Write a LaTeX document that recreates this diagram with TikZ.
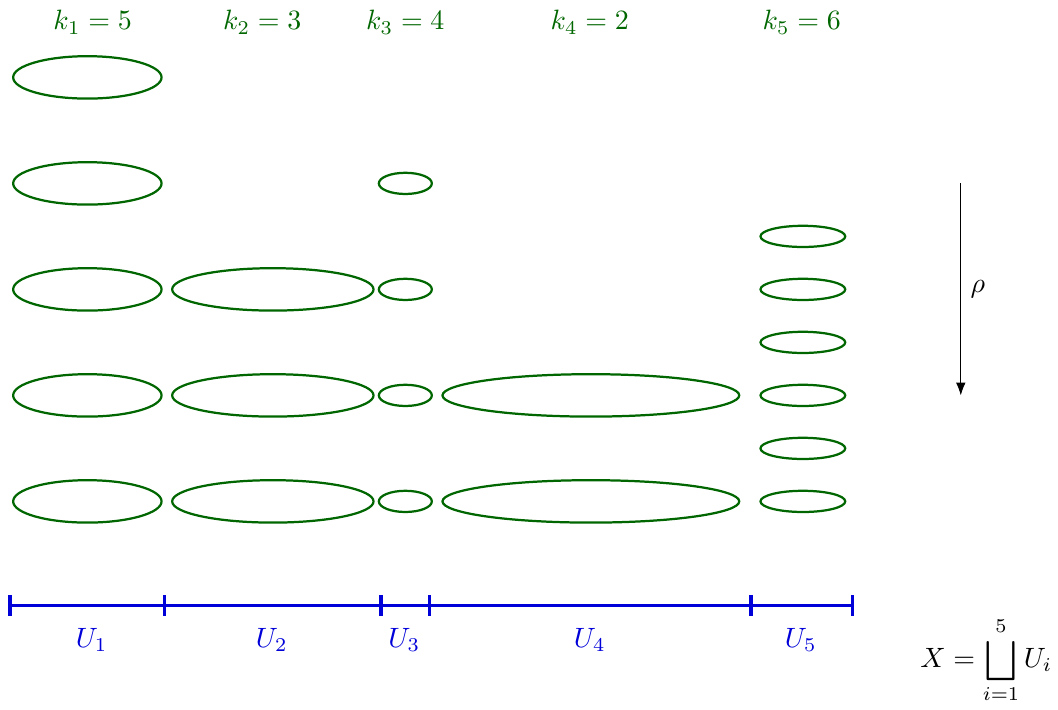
\documentclass[tikz,border=0pt]{standalone}
\usepackage{amsmath}
\usepackage{xcolor}
\usepackage{tikz}
\usetikzlibrary{arrows.meta}

\begin{document}
\begin{tikzpicture}[
  x=1.333cm, y=1.333cm,
  cell/.style={draw=green!40!black, thick},
  klabel/.style={text=green!40!black},
  ulabel/.style={text=blue!85!black},
  base/.style={draw=blue!85!black, very thick},
  arrow/.style={-{Latex[length=1.6mm, width=1.2mm]}, line width=0.3pt}
]
\useasboundingbox (-0.094,-0.98) rectangle (9.887,5.71);

% sheets over each open set
\foreach \y in {0.98,1.98,...,4.98} \draw[cell] (0.73,\y) ellipse (0.7 and 0.2);
\foreach \y in {0.98,1.98,2.98} \draw[cell] (2.48,\y) ellipse (0.95 and 0.2);
\foreach \y in {0.98,1.98,...,3.98} \draw[cell] (3.73,\y) ellipse (0.25 and 0.1);
\foreach \y in {0.98,1.98} \draw[cell] (5.48,\y) ellipse (1.4 and 0.2);
\foreach \y in {0.98,1.48,...,3.48} \draw[cell] (7.48,\y) ellipse (0.4 and 0.1);

% counts
\node[klabel] (k1) at (0.78,5.5) {$k_1 = 5$};
\node[klabel] (k2) at (2.38,5.5) {$k_2 = 3$};
\node[klabel] (k3) at (3.73,5.5) {$k_3 = 4$};
\node[klabel] (k4) at (5.47,5.5) {$k_4 = 2$};
\node[klabel] (k5) at (7.47,5.5) {$k_5 = 6$};

% the base
\coordinate (b0) at (0,0);
\coordinate (b5) at (7.95,0);
\draw[base] (b0) -- (b5);
\foreach \x in {0,1.46,3.5,3.96,6.99,7.95}
  \draw[base] (\x,-0.1) -- (\x,0.1);

\node[ulabel] (u1) at (0.77,-0.33) {$U_1$};
\node[ulabel] (u2) at (2.47,-0.33) {$U_2$};
\node[ulabel] (u3) at (3.72,-0.33) {$U_3$};
\node[ulabel] (u4) at (5.47,-0.33) {$U_4$};
\node[ulabel] (u5) at (7.46,-0.33) {$U_5$};

% projection
\coordinate (top) at (8.97,3.98);
\coordinate (bot) at (8.97,1.98);
\draw[arrow] (top) -- node[right] {$\rho$} (bot);

\node (union) at (9.21,-0.52) {$\displaystyle X = \bigsqcup_{i=1}^{5} U_i$};

\end{tikzpicture}
\end{document}
